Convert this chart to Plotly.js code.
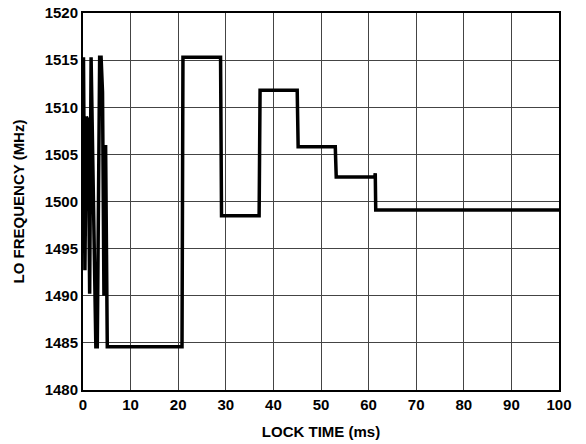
<!DOCTYPE html>
<html>
<head>
<meta charset="utf-8">
<script src="https://cdn.plot.ly/plotly-3.0.1.min.js"></script>
<style>html,body{margin:0;padding:0;background:#fff;}#chart{width:586px;height:444px;}</style>
</head>
<body>
<div id="chart"></div>
<script>
var lockTime = [0, 0.1, 0.4, 0.7, 1.1, 1.4, 1.7, 2.7, 3.0, 3.5, 3.8, 4.0, 4.1, 4.4, 4.6, 4.75, 5.1, 20.8, 21.0, 28.9, 29.1, 37.0, 37.2, 45.0, 45.2, 53.0, 53.2, 61.3, 61.4, 61.5, 100];
var loFreq   = [1500.8, 1515.3, 1492.7, 1509.0, 1508.6, 1490.2, 1515.3, 1484.6, 1484.6, 1515.3, 1515.3, 1511.8, 1511.6, 1490.0, 1506.0, 1506.0, 1484.6, 1484.6, 1515.3, 1515.3, 1498.5, 1498.5, 1511.8, 1511.8, 1505.8, 1505.8, 1502.6, 1502.6, 1503.0, 1499.1, 1499.1];
var xTicks = [0, 10, 20, 30, 40, 50, 60, 70, 80, 90, 100];
var yTicks = [1480, 1485, 1490, 1495, 1500, 1505, 1510, 1515, 1520];

var fontFam = 'Liberation Sans, Arial, sans-serif';
var bold = {family: fontFam, size: 15, weight: 'bold', color: '#000'};
var trace = {
  x: lockTime, y: loFreq, mode: 'lines', type: 'scatter',
  line: {color: '#000', width: 3.5, shape: 'linear'},
  hoverinfo: 'none'
};
var layout = {
  width: 586, height: 444,
  margin: {l: 83, r: 27, t: 13, b: 54},
  paper_bgcolor: '#fff', plot_bgcolor: '#fff',
  showlegend: false,
  font: {family: fontFam, color: '#000', size: 15},
  xaxis: {
    range: [0, 100], tickvals: xTicks, ticktext: xTicks.map(function(v){return '<b>' + v + '</b>';}),
    showgrid: true, gridcolor: '#444', gridwidth: 1,
    showline: true, linecolor: '#000', linewidth: 2, mirror: true,
    zeroline: false, ticks: '', ticklen: 0,
    tickfont: bold,
    title: {text: '<b>LOCK TIME (ms)</b>', font: bold, standoff: 14}
  },
  yaxis: {
    range: [1480, 1520], tickvals: yTicks, ticktext: yTicks.map(function(v){return '<b>' + v + '</b>';}),
    showgrid: true, gridcolor: '#444', gridwidth: 1,
    showline: true, linecolor: '#000', linewidth: 2, mirror: true,
    zeroline: false, ticks: '', ticklen: 0,
    tickfont: bold,
    title: {text: '<b>LO FREQUENCY (MHz)</b>', font: bold, standoff: 16}
  }
};
Plotly.newPlot('chart', [trace], layout, {displayModeBar: false, staticPlot: true});
</script>
</body>
</html>
